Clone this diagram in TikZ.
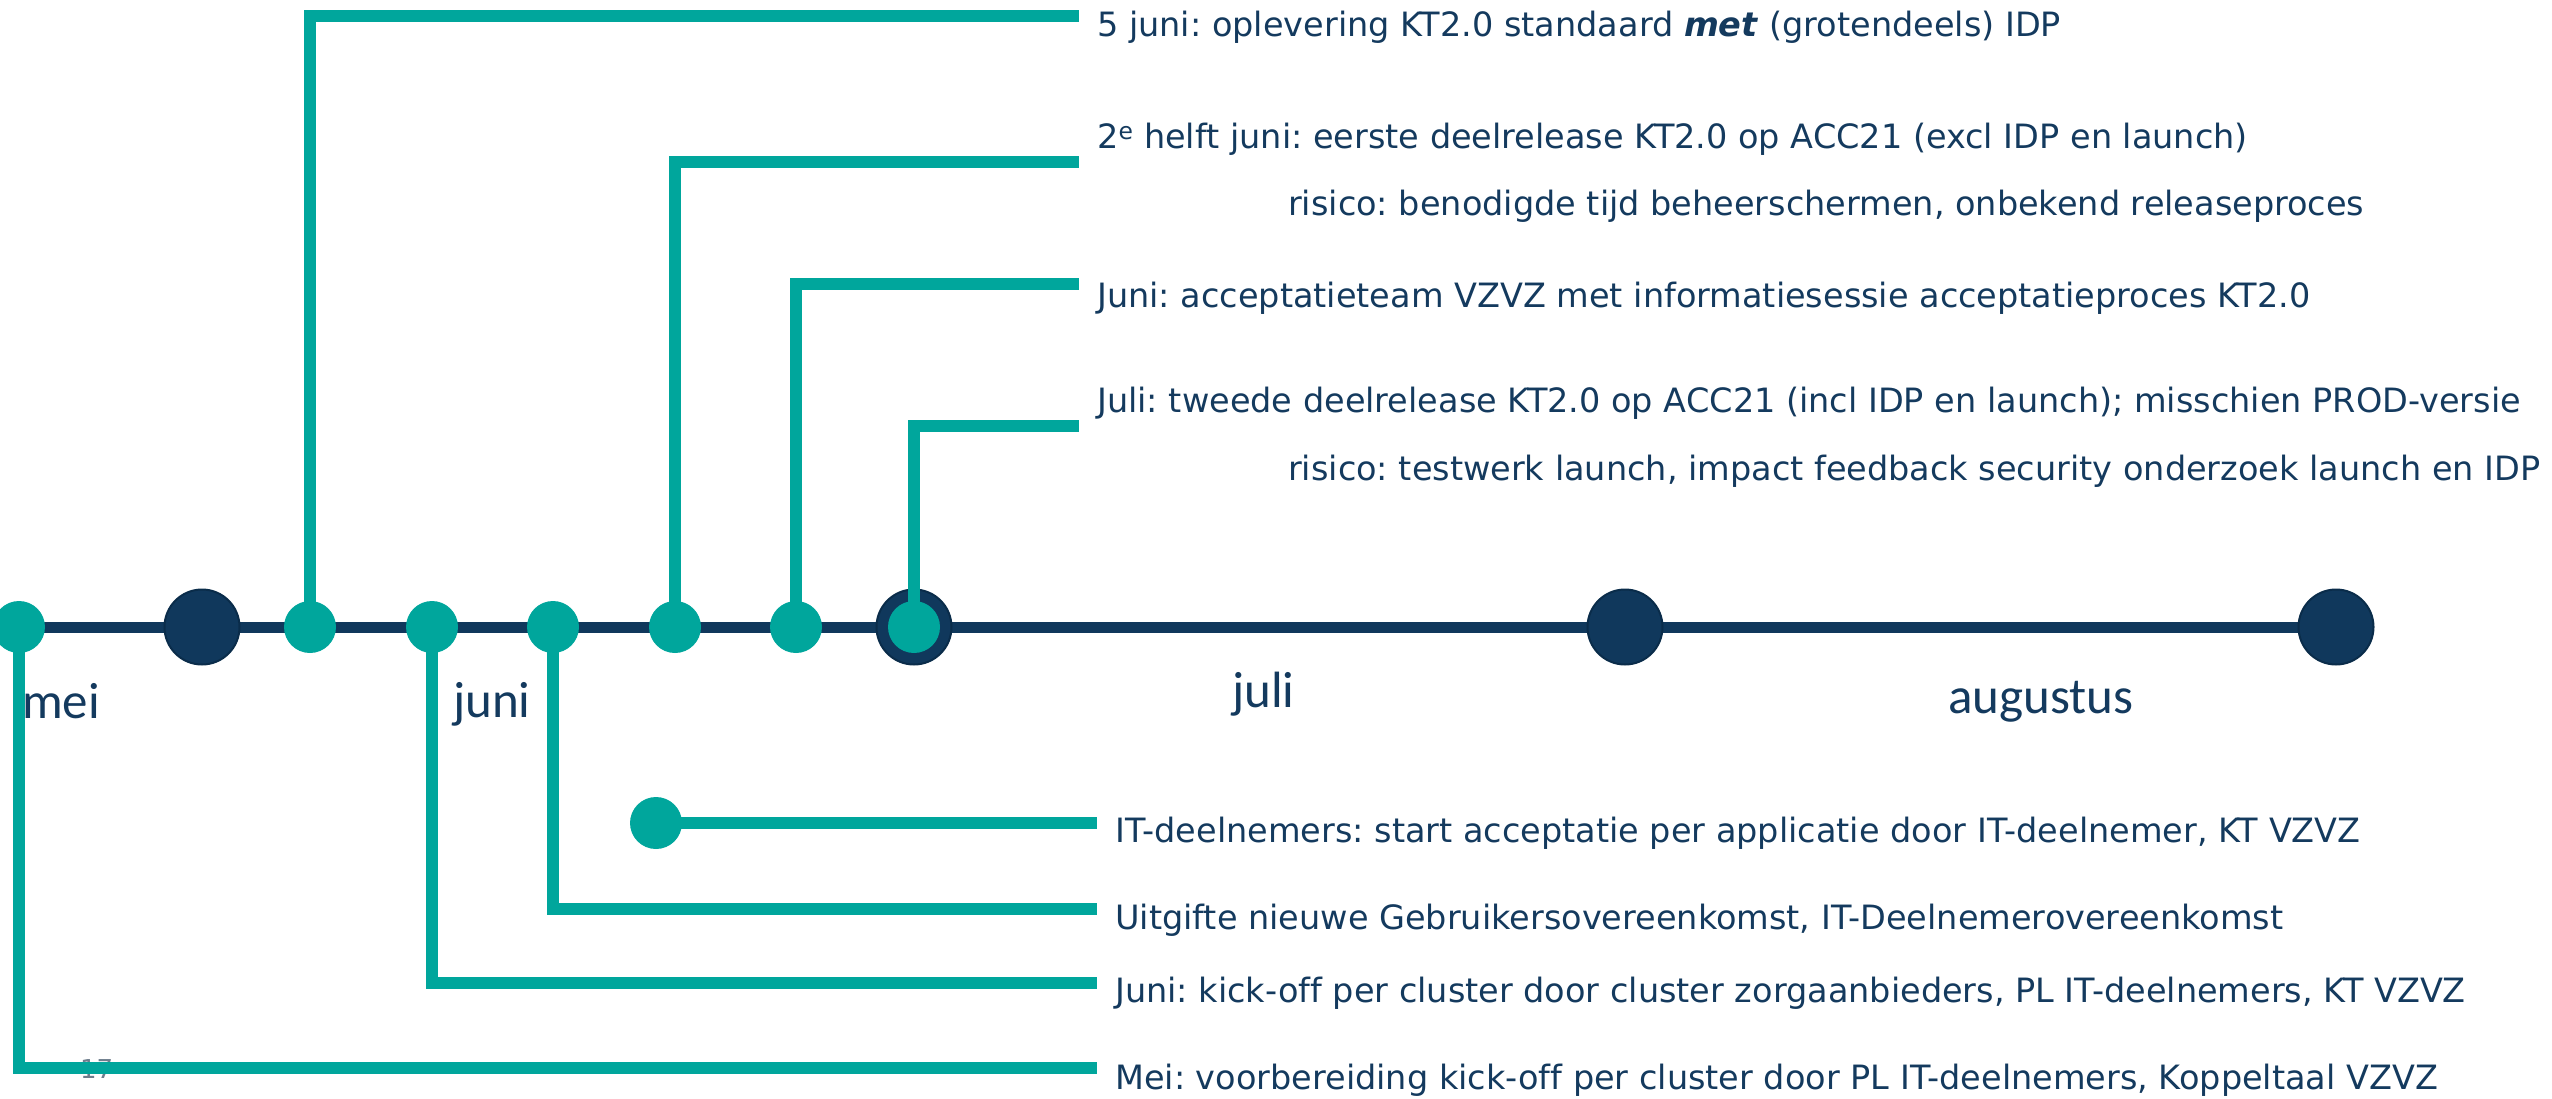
\documentclass[tikz,border=0pt]{standalone}
\usepackage{fontspec}
\setmainfont{DejaVu Sans}[Ligatures={NoCommon}]
\newfontfamily\monthfont{Carlito}
\frenchspacing
\definecolor{navyc}{RGB}{16,56,92}
\definecolor{navydk}{RGB}{10,44,74}
\definecolor{navytxt}{RGB}{20,58,94}
\definecolor{tealc}{RGB}{0,166,156}
\definecolor{pgnum}{RGB}{110,125,140}
\pgfdeclarelayer{tl}
\pgfdeclarelayer{navy}
\pgfdeclarelayer{conn}
\pgfsetlayers{tl,navy,conn,main}
\tikzset{
  evt/.style={anchor=base west, inner sep=0pt, text=navytxt, font=\fontsize{33.5}{40}\selectfont},
  month/.style={anchor=base west, inner sep=0pt, text=navytxt, font=\monthfont\fontsize{51}{60}\selectfont},
  tdot/.style={circle, fill=tealc, minimum size=52pt, inner sep=0pt},
  ndot/.style={circle, fill=navyc, draw=navydk, line width=2pt, minimum size=75pt, inner sep=0pt},
  conn/.style={draw=tealc, line width=12pt, line join=miter},
  tline/.style={draw=navyc, line width=11pt},
}
\begin{document}
\frenchspacing
\begin{tikzpicture}[x=1pt,y=-1pt]
\useasboundingbox (0,0) rectangle (2552,1098);
% teal dots
\node[tdot] (m0) at (19,627) {};
\node[tdot] (m2) at (310,627) {};
\node[tdot] (m3) at (432,627) {};
\node[tdot] (m4) at (553,627) {};
\node[tdot] (m5) at (675,627) {};
\node[tdot] (m6) at (796,627) {};
\node[tdot] (m7) at (914,627) {};
\node[tdot] (it) at (656,823) {};
% navy dots
\begin{pgfonlayer}{navy}
\node[ndot] (n1) at (202,627) {};
\node[ndot] (n2) at (914,627) {};
\node[ndot] (n3) at (1625,627) {};
\node[ndot] (n4) at (2336,627) {};
\end{pgfonlayer}
% timeline and page number
\coordinate (tl0) at (0,627);
\begin{pgfonlayer}{tl}
\node[anchor=base west, inner sep=0pt, text=pgnum, font=\fontsize{26}{30}\selectfont] (pg) at (80,1078) {17};
\draw[tline] (tl0) -- (n4.center);
\end{pgfonlayer}
% connector ends
\coordinate (e1) at (1079,15.5);
\coordinate (e2) at (1079,161.5);
\coordinate (e3) at (1079,284);
\coordinate (e4) at (1079,426);
\coordinate (e7) at (1097,823);
\coordinate (e8) at (1097,909);
\coordinate (e9) at (1097,982.5);
\coordinate (e10) at (1097,1068.3);
\begin{pgfonlayer}{conn}
\draw[conn] (m2.center) |- (e1);
\draw[conn] (m5.center) |- (e2);
\draw[conn] (m6.center) |- (e3);
\draw[conn] (m7.center) |- (e4);
\draw[conn] (it.center) -- (e7);
\draw[conn] (m4.center) |- (e8);
\draw[conn] (m3.center) |- (e9);
\draw[conn] (m0.center) |- (e10);
\end{pgfonlayer}
% event texts
\node[evt] (t1) at (1097,36) {5 juni: oplevering KT2.0 standaard \textbf{\textit{met}} (grotendeels) IDP};
\node[evt] (t2) at (1097,148.3) {2\textsuperscript{e} helft juni: eerste deelrelease KT2.0 op ACC21 (excl IDP en launch)};
\node[evt] (r1) at (1288,215) {risico: benodigde tijd beheerschermen, onbekend releaseproces};
\node[evt] (t3) at (1097,307) {Juni: acceptatieteam VZVZ met informatiesessie acceptatieproces KT2.0};
\node[evt] (t4) at (1097,412.7) {Juli: tweede deelrelease KT2.0 op ACC21 (incl IDP en launch); misschien PROD-versie};
\node[evt] (r2) at (1288,480) {risico: testwerk launch, impact feedback security onderzoek launch en IDP};
\node[evt] (t7) at (1115,842.7) {IT-deelnemers: start acceptatie per applicatie door IT-deelnemer, KT VZVZ};
\node[evt] (t8) at (1115,929.5) {Uitgifte nieuwe Gebruikersovereenkomst, IT-Deelnemerovereenkomst};
\node[evt] (t9) at (1115,1002.7) {Juni: kick-off per cluster door cluster zorgaanbieders, PL IT-deelnemers, KT VZVZ};
\node[evt] (t10) at (1115,1089) {Mei: voorbereiding kick-off per cluster door PL IT-deelnemers, Koppeltaal VZVZ};
% month labels
\node[month] (lmei) at (22,718) {mei};
\node[month] (ljuni) at (453,717) {juni};
\node[month] (ljuli) at (1232,707) {juli};
\node[month] (laug) at (1948,713) {augustus};
\end{tikzpicture}
\end{document}
